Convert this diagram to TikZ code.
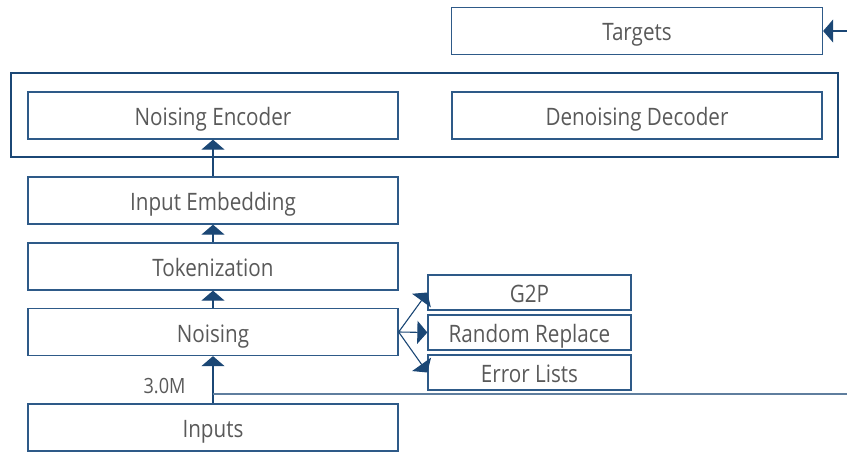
\documentclass[tikz,border=0pt]{standalone}
\usepackage{fontspec}
\setmainfont{Open Sans}[FakeStretch=0.86]
\usetikzlibrary{arrows.meta}
\definecolor{boxc}{HTML}{2E5A88}
\definecolor{linec}{HTML}{1B4775}
\definecolor{txtc}{HTML}{595959}
\tikzset{
  box/.style={draw=boxc, line width=1.3pt, minimum width=370pt, minimum height=47pt,
    inner sep=0pt, text height=20pt, text depth=0pt, text=txtc,
    font=\fontsize{24}{28}\selectfont},
  subbox/.style={box, minimum width=203pt, minimum height=35pt},
  frame/.style={draw=linec, line width=1.2pt, inner sep=0pt},
  flow/.style={draw=linec, line width=1.1pt, -{Triangle[length=10pt,width=23pt]}},
  plain/.style={draw=linec!70, line width=1.1pt},
}
\begin{document}
\begin{tikzpicture}[x=1pt,y=-1pt]
\useasboundingbox (0,0) rectangle (847,452);
% model frame around encoder and decoder
\node[frame, minimum width=827pt, minimum height=84pt] (model) at (424.5,115) {};
\node[box, minimum width=371pt] (targets) at (637,31) {Targets};
\node[box] (enc) at (213,115.5) {Noising Encoder};
\node[box] (dec) at (637,115.5) {Denoising Decoder};
\node[box] (emb) at (213,200.5) {Input Embedding};
\node[box] (tok) at (213,266.5) {Tokenization};
\node[box] (noise) at (213,332) {Noising};
\node[box] (inputs) at (213,427.5) {Inputs};
\node[subbox] (g2p) at (529.5,292.5) {G2P};
\node[subbox] (rr) at (529.5,332.5) {Random Replace};
\node[subbox] (el) at (529.5,372.5) {Error Lists};
% main pipeline
\draw[flow] (inputs) -- (noise);
\draw[flow] (noise) -- (tok);
\draw[flow] (tok) -- (emb);
\draw[flow] (emb) -- (enc);
\node[anchor=base, inner sep=0pt, text=txtc, font=\fontsize{21}{25}\selectfont] (size) at (164.5,393) {3.0M};
% noising variants
\draw[flow] (noise.east) -- (g2p.west);
\draw[flow] (noise.east) -- (rr.west);
\draw[flow] (noise.east) -- (el.west);
% side route towards the targets
\coordinate (tapR) at (847,394);
\coordinate (tap) at (inputs.north |- tapR);
\coordinate (tgtIn) at (847,31);
\draw[plain] (tap) -- (tapR);
\draw[flow] (tgtIn) -- (targets.east);
\end{tikzpicture}
\end{document}
